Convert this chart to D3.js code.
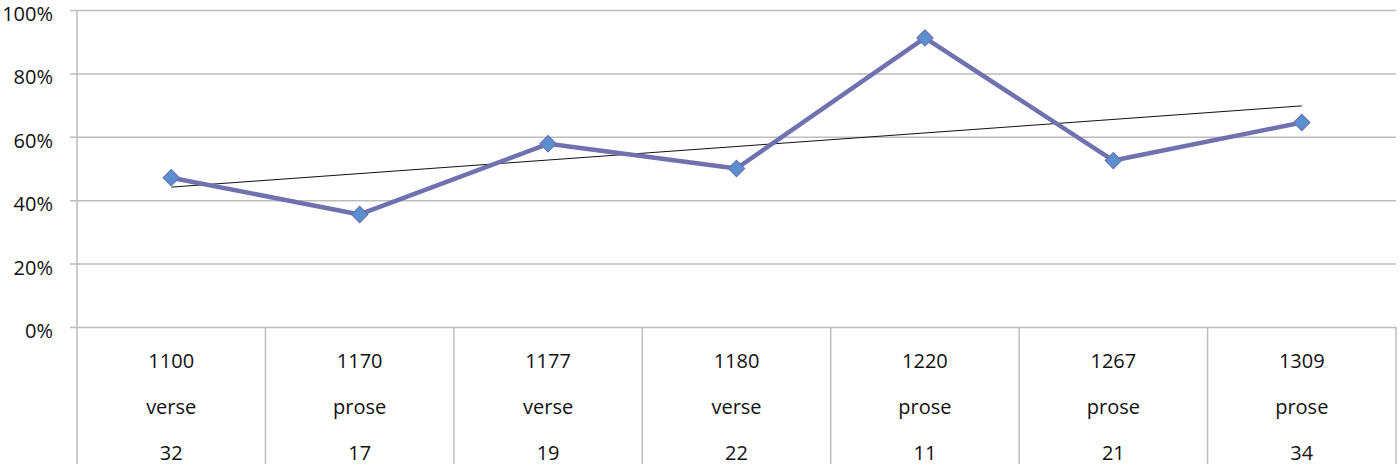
<!DOCTYPE html>
<html>
<head>
<meta charset="utf-8">
<script src="https://cdn.jsdelivr.net/npm/d3@7"></script>
<style>
  body { margin: 0; background: #fff; }
  text { font-family: "Open Sans", sans-serif; fill: #111; }
</style>
</head>
<body>
<svg id="chart" width="1400" height="470"></svg>
<script>
// DATA
const years = ["1100", "1170", "1177", "1180", "1220", "1267", "1309"];
const genres = ["verse", "prose", "verse", "verse", "prose", "prose", "prose"];
const counts = ["32", "17", "19", "22", "11", "21", "34"];
const shares = [0.471, 0.355, 0.578, 0.500, 0.912, 0.525, 0.645];
const yTicks = [0, 0.2, 0.4, 0.6, 0.8, 1];

// LAYOUT
const plotLeft = 77, plotRight = 1396, plotTop = 10, plotBottom = 327, tableBottom = 464;
const svg = d3.select("#chart");

const x = d3.scaleBand().domain(d3.range(years.length)).range([plotLeft, plotRight]);
const y = d3.scaleLinear().domain([0, 1]).range([plotBottom, plotTop]);
const cx = i => x(i) + x.bandwidth() / 2;

// gridlines + y labels
const yAxis = d3.axisLeft(y)
    .tickValues(yTicks)
    .tickFormat(d3.format(".0%"))
    .tickSize(-(plotRight - plotLeft + 7))
    .tickPadding(0);
svg.append("g")
    .attr("transform", "translate(" + (plotLeft - 7) + ",0)")
    .call(yAxis)
    .call(g => g.select(".domain").remove())
    .call(g => g.selectAll("line").attr("stroke", "#bdbdbd").attr("stroke-width", 1.5))
    .call(g => g.selectAll("text")
        .attr("x", -17)
        .attr("dy", "0.52em")
        .attr("font-size", "20px")
        .attr("font-family", "Open Sans, sans-serif")
        .attr("fill", "#111"));

// vertical axis line and table separators
svg.append("line")
    .attr("x1", plotLeft).attr("x2", plotLeft)
    .attr("y1", plotTop).attr("y2", tableBottom)
    .attr("stroke", "#bdbdbd").attr("stroke-width", 1.5);

const seps = d3.range(1, years.length + 1).map(i => i < years.length ? x(i) : plotRight);
svg.selectAll(".sep").data(seps).enter().append("line")
    .attr("class", "sep")
    .attr("x1", d => d).attr("x2", d => d)
    .attr("y1", plotBottom).attr("y2", tableBottom)
    .attr("stroke", "#bdbdbd").attr("stroke-width", 1.5);

// table labels (baselines)
const rows = [years, genres, counts];
const rowY = [367.5, 414, 460];
rows.forEach(function (row, r) {
    svg.selectAll(".row" + r).data(row).enter().append("text")
        .attr("class", "row" + r)
        .attr("x", (d, i) => cx(i))
        .attr("y", rowY[r])
        .attr("text-anchor", "middle")
        .attr("font-size", "20px")
        .text(d => d);
});

// linear trendline
const n = shares.length;
const mx = d3.mean(d3.range(n)), my = d3.mean(shares);
const slope = d3.sum(shares, (v, i) => (i - mx) * (v - my)) / d3.sum(d3.range(n), i => (i - mx) * (i - mx));
const trend = i => my + slope * (i - mx);
svg.append("line")
    .attr("x1", cx(0)).attr("y1", y(trend(0)))
    .attr("x2", cx(n - 1)).attr("y2", y(trend(n - 1)))
    .attr("stroke", "#111").attr("stroke-width", 1);

// data line
const line = d3.line().x((d, i) => cx(i)).y(d => y(d));
svg.append("path")
    .datum(shares)
    .attr("d", line)
    .attr("fill", "none")
    .attr("stroke", "#6f72ae")
    .attr("stroke-width", 4.5)
    .attr("stroke-linejoin", "round");

// markers
const diamond = d3.symbol().type(d3.symbolSquare).size(135);
svg.selectAll(".pt").data(shares).enter().append("path")
    .attr("class", "pt")
    .attr("d", diamond)
    .attr("transform", (d, i) => "translate(" + cx(i) + "," + y(d) + ") rotate(45)")
    .attr("fill", "#5b8fd0")
    .attr("stroke", "#6a6fb0")
    .attr("stroke-width", 1);
</script>
</body>
</html>
